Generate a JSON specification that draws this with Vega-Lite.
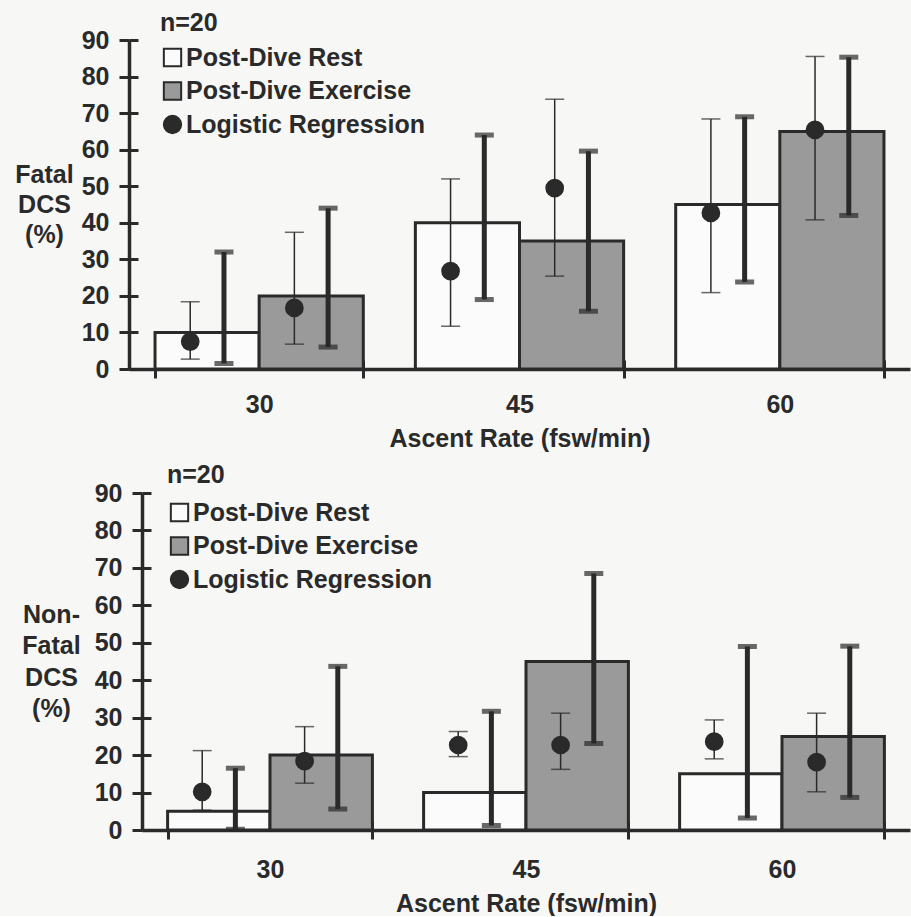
{
  "$schema": "https://vega.github.io/schema/vega-lite/v6.json",
  "background": "#f7f7f5",
  "padding": {"left": 14, "top": 11, "right": 2, "bottom": 0},
  "config": {
    "font": "Liberation Sans",
    "view": {"stroke": null},
    "axis": {
      "labelFont": "Liberation Sans", "labelFontSize": 25, "labelFontWeight": "bold", "labelColor": "#2a2a2a",
      "titleFont": "Liberation Sans", "titleFontSize": 25, "titleFontWeight": "bold", "titleColor": "#2a2a2a",
      "domainColor": "#2a2a2a", "domainWidth": 3.5, "tickColor": "#2a2a2a", "tickWidth": 3, "grid": false
    },
    "legend": {
      "labelFont": "Liberation Sans", "labelFontSize": 25, "labelFontWeight": "bold", "labelColor": "#2a2a2a", "labelLimit": 400,
      "titleFont": "Liberation Sans", "titleFontSize": 25, "titleFontWeight": "bold", "titleColor": "#2a2a2a",
      "symbolSize": 300, "symbolStrokeColor": "#2a2a2a", "symbolStrokeWidth": 2, "symbolOpacity": 1,
      "labelOffset": 1, "rowPadding": 6.5, "titlePadding": 9
    }
  },
  "datasets": {
    "d": [
      {"panel": "Fatal", "rate": "30", "series": "Post-Dive Rest", "pct": 10, "lo": 1.5, "hi": 32, "lr": 7.5, "lrLo": 2.7, "lrHi": 18.4},
      {"panel": "Fatal", "rate": "30", "series": "Post-Dive Exercise", "pct": 20, "lo": 6, "hi": 44, "lr": 16.7, "lrLo": 6.8, "lrHi": 37.4},
      {"panel": "Fatal", "rate": "45", "series": "Post-Dive Rest", "pct": 40, "lo": 19, "hi": 64, "lr": 26.8, "lrLo": 11.7, "lrHi": 52},
      {"panel": "Fatal", "rate": "45", "series": "Post-Dive Exercise", "pct": 35, "lo": 15.8, "hi": 59.6, "lr": 49.5, "lrLo": 25.4, "lrHi": 73.8},
      {"panel": "Fatal", "rate": "60", "series": "Post-Dive Rest", "pct": 45, "lo": 23.8, "hi": 69, "lr": 42.7, "lrLo": 20.9, "lrHi": 68.4},
      {"panel": "Fatal", "rate": "60", "series": "Post-Dive Exercise", "pct": 65, "lo": 42, "hi": 85.3, "lr": 65.4, "lrLo": 40.8, "lrHi": 85.5},
      {"panel": "NonFatal", "rate": "30", "series": "Post-Dive Rest", "pct": 5, "lo": 0.2, "hi": 16.5, "lr": 10.2, "lrLo": 5.3, "lrHi": 21.2},
      {"panel": "NonFatal", "rate": "30", "series": "Post-Dive Exercise", "pct": 20, "lo": 5.6, "hi": 43.7, "lr": 18.4, "lrLo": 12.5, "lrHi": 27.6},
      {"panel": "NonFatal", "rate": "45", "series": "Post-Dive Rest", "pct": 10, "lo": 1.2, "hi": 31.7, "lr": 22.7, "lrLo": 19.6, "lrHi": 26.3},
      {"panel": "NonFatal", "rate": "45", "series": "Post-Dive Exercise", "pct": 45, "lo": 23.1, "hi": 68.5, "lr": 22.7, "lrLo": 16.2, "lrHi": 31.2},
      {"panel": "NonFatal", "rate": "60", "series": "Post-Dive Rest", "pct": 15, "lo": 3.2, "hi": 49, "lr": 23.6, "lrLo": 19, "lrHi": 29.4},
      {"panel": "NonFatal", "rate": "60", "series": "Post-Dive Exercise", "pct": 25, "lo": 8.7, "hi": 49.1, "lr": 18.1, "lrLo": 10.2, "lrHi": 31.2}
    ]
  },
  "spacing": 12,
  "resolve": {"scale": {"fill": "independent", "shape": "independent"}},
  "vconcat": [
    {
      "width": 781, "height": 329,
      "data": {"name": "d"},
      "transform": [{"filter": "datum.panel === 'Fatal'"}],
      "layer": [
        {"mark": {"type": "bar", "stroke": "#2a2a2a", "strokeWidth": 3},
          "encoding": {
            "x": {"field": "rate", "type": "nominal", "sort": ["30", "45", "60"], "scale": {"paddingInner": 0.2, "paddingOuter": 0.1},
              "axis": {"title": "Ascent Rate (fsw/min)", "tickBand": "extent", "labelAngle": 0, "tickSize": 9, "labelPadding": 14, "titlePadding": 9}},
            "xOffset": {"field": "series", "sort": ["Post-Dive Rest", "Post-Dive Exercise"]},
            "y": {"field": "pct", "type": "quantitative", "scale": {"domain": [0, 90], "nice": false},
              "axis": {"title": ["Fatal", "DCS", "(%)"], "titleAngle": 0, "titleAlign": "center", "titleBaseline": "middle", "titleX": -85, "titleY": 134, "titleLineHeight": 30,
                "values": [0, 10, 20, 30, 40, 50, 60, 70, 80, 90], "labelOverlap": false, "tickSize": 10, "labelPadding": 10}},
            "fill": {"field": "series", "type": "nominal",
              "scale": {"domain": ["Post-Dive Rest", "Post-Dive Exercise", "Logistic Regression"], "range": ["#fbfbfb", "#9a9a9a", "#2a2a2a"]},
              "legend": {"title": "n=20", "orient": "none", "legendX": 31, "legendY": -29,
                "encode": {"symbols": {"update": {"stroke": {"value": "#2a2a2a"}, "strokeWidth": {"value": 2}}}}}}
          }},
        {"mark": {"type": "rule", "strokeWidth": 5, "color": "#2a2a2a"},
          "encoding": {
            "x": {"field": "rate", "type": "nominal", "sort": ["30", "45", "60"],
              "axis": {"orient": "top", "offset": -329, "tickBand": "extent", "labels": false, "domain": false, "title": null, "tickSize": 9}},
            "xOffset": {"field": "series", "sort": ["Post-Dive Rest", "Post-Dive Exercise"], "scale": {"paddingInner": 0.6, "paddingOuter": 0.3, "align": 0.77}},
            "y": {"field": "lo", "type": "quantitative",
              "axis": {"orient": "right", "offset": -781, "values": [0, 10, 20, 30, 40, 50, 60, 70, 80, 90], "labels": false, "domain": false, "title": null, "tickSize": 9}},
            "y2": {"field": "hi"}}},
        {"mark": {"type": "tick", "thickness": 5, "size": 19, "color": "#2a2a2a"},
          "encoding": {
            "x": {"field": "rate", "type": "nominal", "sort": ["30", "45", "60"], "axis": null},
            "xOffset": {"field": "series", "sort": ["Post-Dive Rest", "Post-Dive Exercise"], "scale": {"paddingInner": 0.6, "paddingOuter": 0.3, "align": 0.77}},
            "y": {"field": "lo", "type": "quantitative", "axis": null}}},
        {"mark": {"type": "tick", "thickness": 5, "size": 19, "color": "#2a2a2a"},
          "encoding": {
            "x": {"field": "rate", "type": "nominal", "sort": ["30", "45", "60"], "axis": null},
            "xOffset": {"field": "series", "sort": ["Post-Dive Rest", "Post-Dive Exercise"], "scale": {"paddingInner": 0.6, "paddingOuter": 0.3, "align": 0.77}},
            "y": {"field": "hi", "type": "quantitative", "axis": null}}},
        {"mark": {"type": "rule", "strokeWidth": 1.5, "color": "#2a2a2a"},
          "encoding": {
            "x": {"field": "rate", "type": "nominal", "sort": ["30", "45", "60"], "axis": null},
            "xOffset": {"field": "series", "sort": ["Post-Dive Rest", "Post-Dive Exercise"], "scale": {"paddingInner": 0.6, "paddingOuter": 0.3, "align": 0.23}},
            "y": {"field": "lrLo", "type": "quantitative", "axis": null}, "y2": {"field": "lrHi"}}},
        {"mark": {"type": "tick", "thickness": 1.5, "size": 19, "color": "#2a2a2a"},
          "encoding": {
            "x": {"field": "rate", "type": "nominal", "sort": ["30", "45", "60"], "axis": null},
            "xOffset": {"field": "series", "sort": ["Post-Dive Rest", "Post-Dive Exercise"], "scale": {"paddingInner": 0.6, "paddingOuter": 0.3, "align": 0.23}},
            "y": {"field": "lrLo", "type": "quantitative", "axis": null}}},
        {"mark": {"type": "tick", "thickness": 1.5, "size": 19, "color": "#2a2a2a"},
          "encoding": {
            "x": {"field": "rate", "type": "nominal", "sort": ["30", "45", "60"], "axis": null},
            "xOffset": {"field": "series", "sort": ["Post-Dive Rest", "Post-Dive Exercise"], "scale": {"paddingInner": 0.6, "paddingOuter": 0.3, "align": 0.23}},
            "y": {"field": "lrHi", "type": "quantitative", "axis": null}}},
        {"mark": {"type": "point", "filled": true, "size": 280, "opacity": 1, "stroke": "#2a2a2a", "strokeWidth": 2},
          "encoding": {
            "x": {"field": "rate", "type": "nominal", "sort": ["30", "45", "60"], "axis": null},
            "xOffset": {"field": "series", "sort": ["Post-Dive Rest", "Post-Dive Exercise"], "scale": {"type": "band", "paddingInner": 0.6, "paddingOuter": 0.3, "align": 0.23}},
            "y": {"field": "lr", "type": "quantitative", "axis": null},
            "fill": {"datum": "Logistic Regression", "type": "nominal",
              "scale": {"domain": ["Post-Dive Rest", "Post-Dive Exercise", "Logistic Regression"], "range": ["#fbfbfb", "#9a9a9a", "#2a2a2a"]},
              "legend": {"title": "n=20", "orient": "none", "legendX": 31, "legendY": -29}},
            "shape": {"datum": "Logistic Regression", "type": "nominal",
              "scale": {"domain": ["Post-Dive Rest", "Post-Dive Exercise", "Logistic Regression"], "range": ["square", "square", "circle"]},
              "legend": {"title": "n=20", "orient": "none", "legendX": 31, "legendY": -29}}
          }}
      ],
      "resolve": {"scale": {"xOffset": "independent"}, "axis": {"x": "independent", "y": "independent"}}
    },
    {
      "width": 781, "height": 337,
      "data": {"name": "d"},
      "transform": [{"filter": "datum.panel === 'NonFatal'"}],
      "layer": [
        {"mark": {"type": "bar", "stroke": "#2a2a2a", "strokeWidth": 3},
          "encoding": {
            "x": {"field": "rate", "type": "nominal", "sort": ["30", "45", "60"], "scale": {"paddingInner": 0.2, "paddingOuter": 0.1, "range": [13, 781]},
              "axis": {"title": "Ascent Rate (fsw/min)", "tickBand": "extent", "labelAngle": 0, "tickSize": 9, "labelPadding": 18, "titlePadding": 9}},
            "xOffset": {"field": "series", "sort": ["Post-Dive Rest", "Post-Dive Exercise"]},
            "y": {"field": "pct", "type": "quantitative", "scale": {"domain": [0, 90], "nice": false},
              "axis": {"title": ["Non-", "Fatal", "DCS", "(%)"], "titleAngle": 0, "titleAlign": "center", "titleBaseline": "middle", "titleX": -91, "titleY": 121, "titleLineHeight": 31.5,
                "values": [0, 10, 20, 30, 40, 50, 60, 70, 80, 90], "labelOverlap": false, "tickSize": 10, "labelPadding": 10, "offset": -13}},
            "fill": {"field": "series", "type": "nominal",
              "scale": {"domain": ["Post-Dive Rest", "Post-Dive Exercise", "Logistic Regression"], "range": ["#fbfbfb", "#9a9a9a", "#2a2a2a"]},
              "legend": {"title": "n=20", "orient": "none", "legendX": 38, "legendY": -30, "titlePadding": 12,
                "encode": {"symbols": {"update": {"stroke": {"value": "#2a2a2a"}, "strokeWidth": {"value": 2}}}}}}
          }},
        {"mark": {"type": "rule", "strokeWidth": 5, "color": "#2a2a2a"},
          "encoding": {
            "x": {"field": "rate", "type": "nominal", "sort": ["30", "45", "60"],
              "axis": {"orient": "top", "offset": -337, "tickBand": "extent", "labels": false, "domain": false, "title": null, "tickSize": 9}},
            "xOffset": {"field": "series", "sort": ["Post-Dive Rest", "Post-Dive Exercise"], "scale": {"paddingInner": 0.6, "paddingOuter": 0.3, "align": 0.77}},
            "y": {"field": "lo", "type": "quantitative",
              "axis": {"orient": "right", "offset": -768, "values": [0, 10, 20, 30, 40, 50, 60, 70, 80, 90], "labels": false, "domain": false, "title": null, "tickSize": 9}},
            "y2": {"field": "hi"}}},
        {"mark": {"type": "tick", "thickness": 5, "size": 19, "color": "#2a2a2a"},
          "encoding": {
            "x": {"field": "rate", "type": "nominal", "sort": ["30", "45", "60"], "axis": null},
            "xOffset": {"field": "series", "sort": ["Post-Dive Rest", "Post-Dive Exercise"], "scale": {"paddingInner": 0.6, "paddingOuter": 0.3, "align": 0.77}},
            "y": {"field": "lo", "type": "quantitative", "axis": null}}},
        {"mark": {"type": "tick", "thickness": 5, "size": 19, "color": "#2a2a2a"},
          "encoding": {
            "x": {"field": "rate", "type": "nominal", "sort": ["30", "45", "60"], "axis": null},
            "xOffset": {"field": "series", "sort": ["Post-Dive Rest", "Post-Dive Exercise"], "scale": {"paddingInner": 0.6, "paddingOuter": 0.3, "align": 0.77}},
            "y": {"field": "hi", "type": "quantitative", "axis": null}}},
        {"mark": {"type": "rule", "strokeWidth": 1.5, "color": "#2a2a2a"},
          "encoding": {
            "x": {"field": "rate", "type": "nominal", "sort": ["30", "45", "60"], "axis": null},
            "xOffset": {"field": "series", "sort": ["Post-Dive Rest", "Post-Dive Exercise"], "scale": {"paddingInner": 0.6, "paddingOuter": 0.3, "align": 0.23}},
            "y": {"field": "lrLo", "type": "quantitative", "axis": null}, "y2": {"field": "lrHi"}}},
        {"mark": {"type": "tick", "thickness": 1.5, "size": 19, "color": "#2a2a2a"},
          "encoding": {
            "x": {"field": "rate", "type": "nominal", "sort": ["30", "45", "60"], "axis": null},
            "xOffset": {"field": "series", "sort": ["Post-Dive Rest", "Post-Dive Exercise"], "scale": {"paddingInner": 0.6, "paddingOuter": 0.3, "align": 0.23}},
            "y": {"field": "lrLo", "type": "quantitative", "axis": null}}},
        {"mark": {"type": "tick", "thickness": 1.5, "size": 19, "color": "#2a2a2a"},
          "encoding": {
            "x": {"field": "rate", "type": "nominal", "sort": ["30", "45", "60"], "axis": null},
            "xOffset": {"field": "series", "sort": ["Post-Dive Rest", "Post-Dive Exercise"], "scale": {"paddingInner": 0.6, "paddingOuter": 0.3, "align": 0.23}},
            "y": {"field": "lrHi", "type": "quantitative", "axis": null}}},
        {"mark": {"type": "point", "filled": true, "size": 280, "opacity": 1, "stroke": "#2a2a2a", "strokeWidth": 2},
          "encoding": {
            "x": {"field": "rate", "type": "nominal", "sort": ["30", "45", "60"], "axis": null},
            "xOffset": {"field": "series", "sort": ["Post-Dive Rest", "Post-Dive Exercise"], "scale": {"type": "band", "paddingInner": 0.6, "paddingOuter": 0.3, "align": 0.23}},
            "y": {"field": "lr", "type": "quantitative", "axis": null},
            "fill": {"datum": "Logistic Regression", "type": "nominal",
              "scale": {"domain": ["Post-Dive Rest", "Post-Dive Exercise", "Logistic Regression"], "range": ["#fbfbfb", "#9a9a9a", "#2a2a2a"]},
              "legend": {"title": "n=20", "orient": "none", "legendX": 38, "legendY": -30, "titlePadding": 12}},
            "shape": {"datum": "Logistic Regression", "type": "nominal",
              "scale": {"domain": ["Post-Dive Rest", "Post-Dive Exercise", "Logistic Regression"], "range": ["square", "square", "circle"]},
              "legend": {"title": "n=20", "orient": "none", "legendX": 38, "legendY": -30, "titlePadding": 12}}
          }}
      ],
      "resolve": {"scale": {"xOffset": "independent"}, "axis": {"x": "independent", "y": "independent"}}
    }
  ]
}
